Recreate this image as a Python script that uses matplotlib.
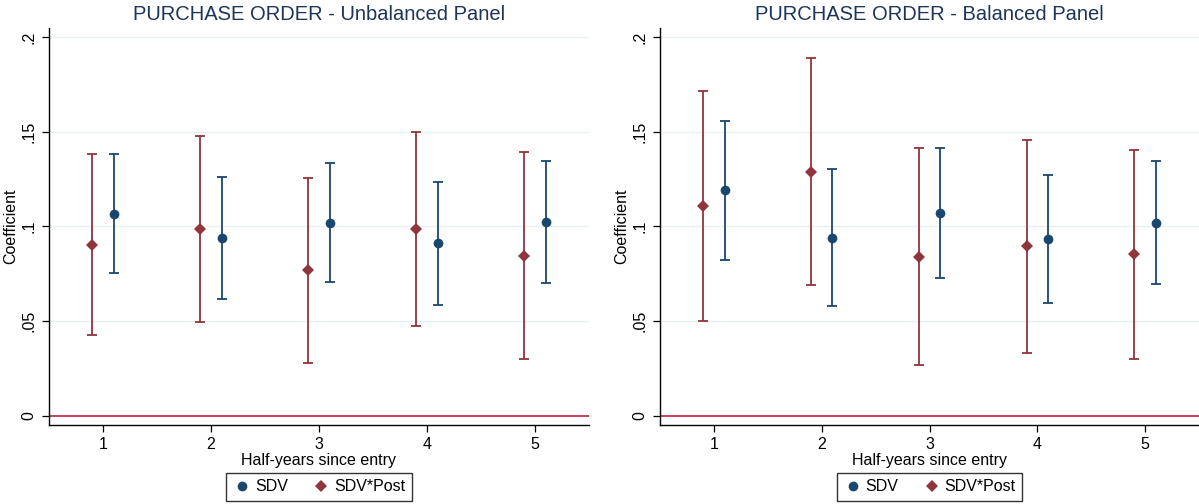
import matplotlib
matplotlib.use("Agg")
import matplotlib.pyplot as plt
from matplotlib.lines import Line2D
import numpy as np

plt.rcParams['font.family'] = ['Liberation Sans', 'DejaVu Sans']

periods = [1, 2, 3, 4, 5]
tick_labels = ["0", ".05", ".1", ".15", ".2"]
tick_values = [0, 0.05, 0.10, 0.15, 0.20]

titles = ["PURCHASE ORDER - Unbalanced Panel", "PURCHASE ORDER - Balanced Panel"]

# Unbalanced panel
unb_sdv = [0.1068, 0.0939, 0.1020, 0.0910, 0.1022]
unb_sdv_lo = [0.0753, 0.0616, 0.0707, 0.0586, 0.0699]
unb_sdv_hi = [0.1383, 0.1261, 0.1334, 0.1233, 0.1348]
unb_post = [0.0900, 0.0984, 0.0769, 0.0985, 0.0846]
unb_post_lo = [0.0426, 0.0493, 0.0280, 0.0472, 0.0298]
unb_post_hi = [0.1380, 0.1476, 0.1258, 0.1499, 0.1395]

# Balanced panel
bal_sdv = [0.1190, 0.0941, 0.1071, 0.0934, 0.1018]
bal_sdv_lo = [0.0822, 0.0580, 0.0728, 0.0596, 0.0695]
bal_sdv_hi = [0.1559, 0.1302, 0.1414, 0.1274, 0.1346]
bal_post = [0.1107, 0.1290, 0.0839, 0.0894, 0.0852]
bal_post_lo = [0.0498, 0.0691, 0.0268, 0.0329, 0.0298]
bal_post_hi = [0.1717, 0.1891, 0.1414, 0.1455, 0.1404]

panels = [
    (unb_sdv, unb_sdv_lo, unb_sdv_hi, unb_post, unb_post_lo, unb_post_hi),
    (bal_sdv, bal_sdv_lo, bal_sdv_hi, bal_post, bal_post_lo, bal_post_hi),
]

BLUE = '#1a476f'
RED = '#90353b'
ZERO = '#cc2b4d'
GRID = '#e8f0f3'
TITLE = '#1e3559'

fig = plt.figure(figsize=(11.99, 5.04), dpi=100)
W, H = 1199, 504
rects = [
    (48.7 / W, (H - 425) / H, (589.3 - 48.7) / W, (425 - 28) / H),
    (660 / W, (H - 425) / H, (1199 - 660) / W, (425 - 28) / H),
]

for i, (rect, data) in enumerate(zip(rects, panels)):
    sdv, sdv_lo, sdv_hi, post, post_lo, post_hi = data
    ax = fig.add_axes(rect)
    x = np.array(periods, dtype=float)
    sdv = np.array(sdv); post = np.array(post)
    ax.axhline(0, color=ZERO, lw=1.3, zorder=1)
    for yv in tick_values[1:]:
        ax.axhline(yv, color=GRID, lw=1.0, zorder=0)
    ax.errorbar(x - 0.1, post,
                yerr=[post - np.array(post_lo), np.array(post_hi) - post],
                fmt='none', ecolor=RED, elinewidth=1.3, capsize=3.5,
                capthick=1.3, zorder=2)
    ax.errorbar(x + 0.1, sdv,
                yerr=[sdv - np.array(sdv_lo), np.array(sdv_hi) - sdv],
                fmt='none', ecolor=BLUE, elinewidth=1.3, capsize=3.5,
                capthick=1.3, zorder=2)
    ax.plot(x - 0.1, post, linestyle='none', marker='D', color=RED,
            markersize=6.5, markeredgewidth=0, zorder=3)
    ax.plot(x + 0.1, sdv, linestyle='none', marker='o', color=BLUE,
            markersize=7, markeredgewidth=0, zorder=3)
    ax.set_xlim(0.5, 5.5)
    ax.set_ylim(-0.0049, 0.2048)
    ax.set_xticks(periods)
    ax.set_xticklabels([str(p) for p in periods], fontsize=11.5)
    ax.set_yticks(tick_values)
    ax.set_yticklabels(tick_labels, fontsize=11.5, rotation=90, va='center')
    ax.tick_params(axis='both', direction='out', length=5, width=0.9, color='black')
    ax.tick_params(axis='y', pad=4)
    for s in ['top', 'right']:
        ax.spines[s].set_visible(False)
    for s in ['left', 'bottom']:
        ax.spines[s].set_linewidth(1.0)
        ax.spines[s].set_color('black')
    ax.set_xlabel("Half-years since entry", fontsize=11.5, labelpad=1)
    ax.set_ylabel("Coefficient", fontsize=11.5, labelpad=2)
    ax.set_title(titles[i], fontsize=14.5, color=TITLE, pad=6)
    handles = [
        Line2D([], [], marker='o', color=BLUE, linestyle='none', markersize=7, markeredgewidth=0),
        Line2D([], [], marker='D', color=RED, linestyle='none', markersize=6.5, markeredgewidth=0),
    ]
    leg = ax.legend(handles, ["SDV", "SDV*Post"], ncol=2, loc='upper center',
                    bbox_to_anchor=(0.5, -0.121), frameon=True, fancybox=False,
                    edgecolor='black', fontsize=11.5, handletextpad=0.2,
                    columnspacing=1.5, handlelength=1.2, borderpad=0.4,
                    borderaxespad=0)
    leg.get_frame().set_linewidth(1.0)

fig.savefig("out.png", dpi=100)
